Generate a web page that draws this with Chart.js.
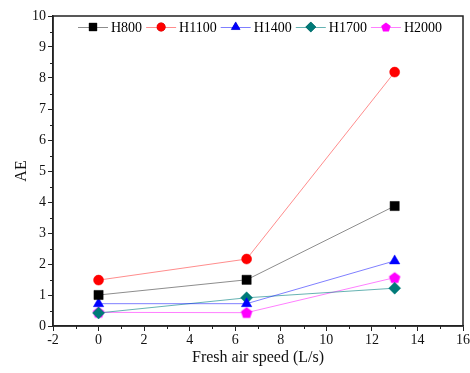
<!DOCTYPE html>
<html>
<head>
<meta charset="utf-8">
<script src="https://cdn.jsdelivr.net/npm/chart.js@4/dist/chart.umd.min.js"></script>
<style>
  body { margin: 0; background: #fff; }
</style>
</head>
<body>
<canvas id="aeChart" width="470" height="373"></canvas>
<script>
// fresh air speed (L/s) and AE values per case
const speeds = [0, 6.5, 13];
const seriesNames = ['H800', 'H1100', 'H1400', 'H1700', 'H2000'];
const h800 = [1.0, 1.49, 3.87];
const h1100 = [1.48, 2.16, 8.19];
const h1400 = [0.72, 0.72, 2.1];
const h1700 = [0.42, 0.91, 1.22];
const h2000 = [0.44, 0.43, 1.56];
const xTickValues = [-2, 0, 2, 4, 6, 8, 10, 12, 14, 16];
const yTickValues = [0, 1, 2, 3, 4, 5, 6, 7, 8, 9, 10];

const FONT = "'Liberation Serif', 'Times New Roman', serif";

// pentagon marker as a small canvas image
function makePentagon(color, r) {
    const c = document.createElement('canvas');
    const s = Math.ceil(r * 2 + 2);
    c.width = s; c.height = s;
    const g = c.getContext('2d');
    g.fillStyle = color;
    g.beginPath();
    for (let i = 0; i < 5; i++) {
        const a = -Math.PI / 2 + i * 2 * Math.PI / 5;
        const px = s / 2 + r * Math.cos(a);
        const py = s / 2 + r * Math.sin(a) + 0.5;
        if (i === 0) g.moveTo(px, py); else g.lineTo(px, py);
    }
    g.closePath();
    g.fill();
    return c;
}

const styles = [
    { line: 'rgba(0,0,0,0.45)', marker: '#000000', pointStyle: 'rect', radius: 6.5 },
    { line: 'rgba(255,0,0,0.45)', marker: '#ff0000', pointStyle: 'circle', radius: 5 },
    { line: 'rgba(0,0,255,0.5)', marker: '#0000ff', pointStyle: 'triangle', radius: 6 },
    { line: 'rgba(0,128,128,0.6)', marker: '#007a78', pointStyle: 'rectRot', radius: 6 },
    { line: 'rgba(255,0,255,0.5)', marker: '#ff00ff', pointStyle: makePentagon('#ff00ff', 6), radius: 6 }
];
const legendMarks = ['rect', 'circle', 'triangle', 'rectRot', makePentagon('#ff00ff', 5)];

const values = [h800, h1100, h1400, h1700, h2000];

const datasets = seriesNames.map((name, i) => ({
    label: name,
    data: speeds.map((s, j) => ({ x: s, y: values[i][j] })),
    showLine: true,
    borderColor: styles[i].line,
    borderWidth: 1,
    tension: 0,
    pointStyle: styles[i].pointStyle,
    pointRadius: styles[i].radius,
    pointBackgroundColor: styles[i].marker,
    pointBorderColor: styles[i].marker,
    pointBorderWidth: 0.5
}));

// box around the plot plus minor ticks
const frame = {
    id: 'frame',
    afterDraw(chart) {
        const { ctx, chartArea: a, scales: { x, y } } = chart;
        ctx.save();
        ctx.strokeStyle = '#222';
        ctx.lineWidth = 1.5;
        ctx.strokeRect(a.left, a.top, a.right - a.left, a.bottom - a.top);
        ctx.lineWidth = 1;
        ctx.beginPath();
        for (let v = -1; v < 16; v += 2) {
            const px = Math.round(x.getPixelForValue(v)) + 0.5;
            ctx.moveTo(px, a.bottom);
            ctx.lineTo(px, a.bottom + 3);
        }
        for (let v = 0.5; v < 10; v += 1) {
            const py = Math.round(y.getPixelForValue(v)) + 0.5;
            ctx.moveTo(a.left, py);
            ctx.lineTo(a.left - 3, py);
        }
        ctx.stroke();
        ctx.restore();
    }
};

// legend drawn inside the plot: line + marker + label
const innerLegend = {
    id: 'innerLegend',
    afterDraw(chart) {
        const ctx = chart.ctx;
        let cx = 78;
        const cy = 27;
        ctx.save();
        ctx.font = '14px ' + FONT;
        ctx.textBaseline = 'middle';
        chart.data.datasets.forEach((ds, i) => {
            ctx.strokeStyle = styles[i].line;
            ctx.lineWidth = 1;
            ctx.beginPath();
            ctx.moveTo(cx, cy + 0.5);
            ctx.lineTo(cx + 30, cy + 0.5);
            ctx.stroke();
            Chart.helpers.drawPoint(ctx, {
                pointStyle: legendMarks[i],
                radius: styles[i].radius * 0.85,
                rotation: 0,
                borderWidth: 0.5
            }, cx + 15, cy);
            ctx.fillStyle = styles[i].marker;
            ctx.fill();
            ctx.fillStyle = '#000';
            ctx.fillText(ds.label, cx + 33, cy + 1);
            cx += 33 + ctx.measureText(ds.label).width + 4;
        });
        ctx.restore();
    }
};

new Chart(document.getElementById('aeChart'), {
    type: 'scatter',
    data: { datasets },
    options: {
        responsive: false,
        animation: false,
        layout: { padding: { left: 0, top: 16, right: 6, bottom: 0 } },
        plugins: { legend: { display: false }, tooltip: { enabled: false } },
        scales: {
            x: {
                type: 'linear',
                min: -2,
                max: 16,
                afterBuildTicks: (scale) => { scale.ticks = xTickValues.map(v => ({ value: v })); },
                afterFit: (scale) => { scale.height = 47; scale.paddingLeft = 0; scale.paddingRight = 0; },
                grid: { drawOnChartArea: false, tickLength: 5, color: '#222' },
                border: { color: '#222', width: 1.5 },
                ticks: { color: '#111', font: { family: FONT, size: 14 }, padding: 1 },
                title: { display: true, text: 'Fresh air speed (L/s)', color: '#111', font: { family: FONT, size: 16 }, padding: { top: 2, bottom: 6 } }
            },
            y: {
                type: 'linear',
                min: 0,
                max: 10,
                afterBuildTicks: (scale) => { scale.ticks = yTickValues.map(v => ({ value: v })); },
                afterFit: (scale) => { scale.width = 53; },
                grid: { drawOnChartArea: false, tickLength: 5, color: '#222' },
                border: { color: '#222', width: 1.5 },
                ticks: { color: '#111', font: { family: FONT, size: 14 }, padding: 2 },
                title: { display: true, text: 'AE', color: '#111', font: { family: FONT, size: 16 }, padding: { top: 12, bottom: 0 } }
            }
        }
    },
    plugins: [frame, innerLegend]
});
</script>
</body>
</html>
